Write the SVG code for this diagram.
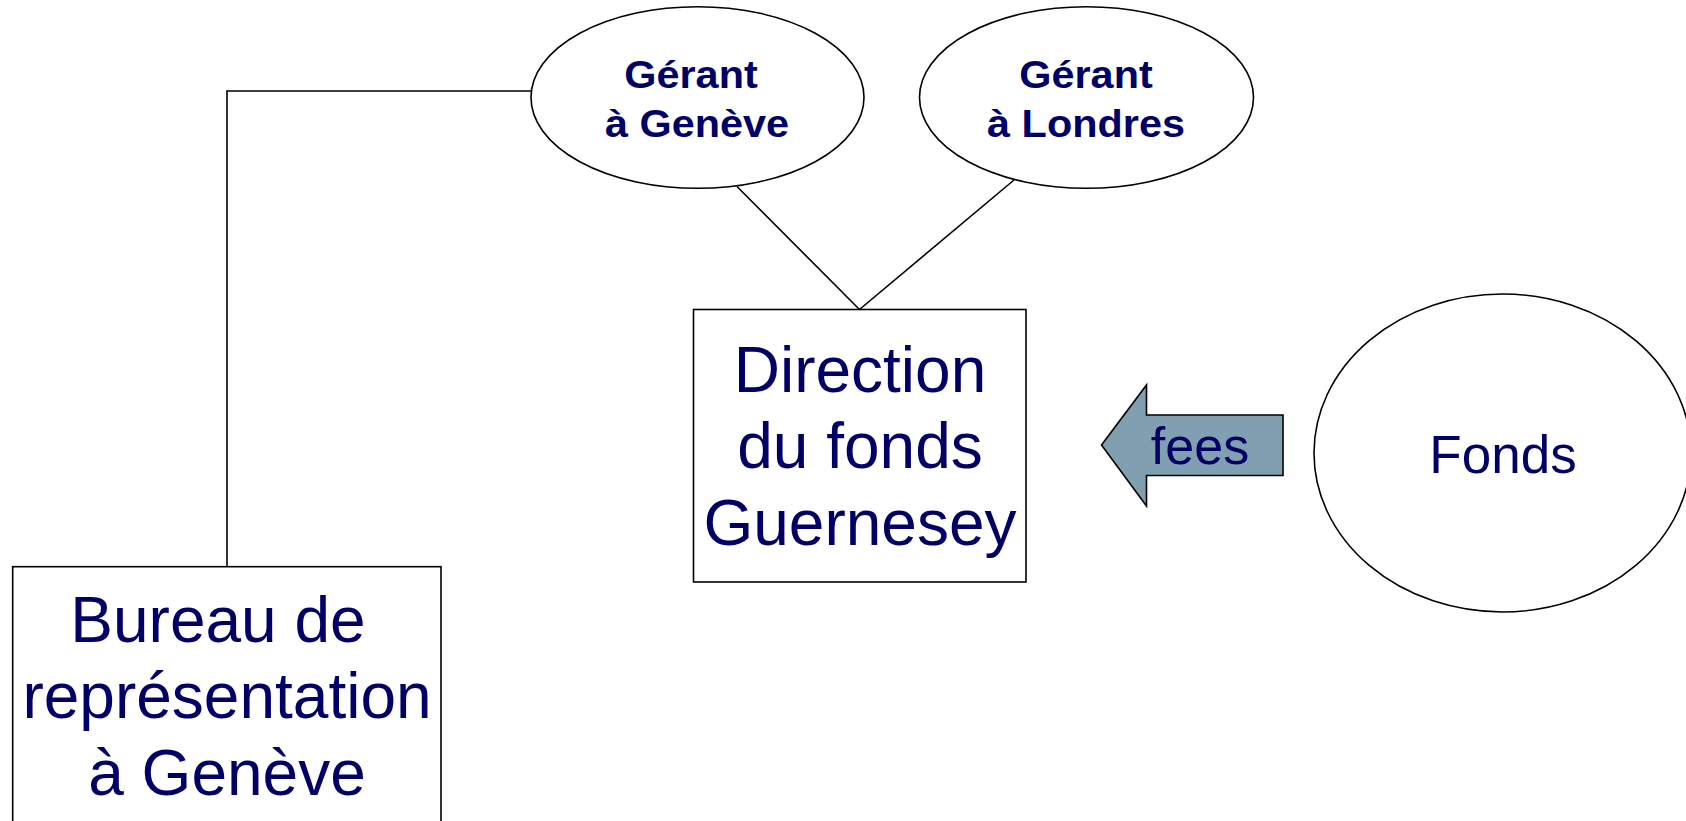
<svg xmlns="http://www.w3.org/2000/svg" width="1686" height="821" viewBox="0 0 1686 821">
  <style>
    .shape { fill: #ffffff; stroke: #000000; stroke-width: 1.6; }
    .link { fill: none; stroke: #000000; stroke-width: 1.6; }
    .big { font-family: "Liberation Sans", Arial, sans-serif; font-size: 64px; fill: #000066; text-anchor: middle; }
    .mid { font-family: "Liberation Sans", Arial, sans-serif; font-size: 52px; fill: #000066; text-anchor: middle; }
    .bold { font-family: "Liberation Sans", Arial, sans-serif; font-size: 38px; font-weight: bold; fill: #000066; text-anchor: middle; }
    .flow { fill: #809fb0; stroke: #000000; stroke-width: 1.6; }
  </style>
  <rect width="1686" height="821" fill="#ffffff"/>

  <g id="connectors">
    <polyline class="link" points="531,91 227,91 227,567"/>
    <line class="link" x1="737" y1="186.5" x2="859.5" y2="309.5"/>
    <line class="link" x1="1014" y1="180" x2="859.5" y2="309.5"/>
  </g>

  <g id="gerant-geneve">
    <ellipse class="shape" cx="697.5" cy="97.5" rx="166.5" ry="90.8"/>
    <g transform="translate(691,0) scale(1.09,1)">
      <text class="bold" x="0" y="88">Gérant</text>
    </g>
    <g transform="translate(697,0) scale(1.09,1)">
      <text class="bold" x="0" y="137">à Genève</text>
    </g>
  </g>

  <g id="gerant-londres">
    <ellipse class="shape" cx="1086.5" cy="97.5" rx="167" ry="90.8"/>
    <g transform="translate(1086,0) scale(1.09,1)">
      <text class="bold" x="0" y="88">Gérant</text>
    </g>
    <g transform="translate(1086,0) scale(1.09,1)">
      <text class="bold" x="0" y="137">à Londres</text>
    </g>
  </g>

  <g id="direction">
    <rect class="shape" x="693.5" y="309.5" width="332.5" height="272.5"/>
    <text class="big" x="860" y="391.5">Direction</text>
    <text class="big" x="860" y="468">du fonds</text>
    <text class="big" x="860" y="545">Guernesey</text>
  </g>

  <g id="fees">
    <polygon class="flow" points="1101.5,445 1146.5,385 1146.5,415 1283,415 1283,475.5 1146.5,475.5 1146.5,506"/>
    <text class="mid" x="1200" y="464">fees</text>
  </g>

  <g id="fonds">
    <ellipse class="shape" cx="1502.5" cy="453" rx="188.5" ry="159"/>
    <text class="mid" x="1503" y="472.5" style="font-size:53px">Fonds</text>
  </g>

  <g id="bureau">
    <rect class="shape" x="12.7" y="566.7" width="428.3" height="270"/>
    <text class="big" x="218" y="641.5">Bureau de</text>
    <text class="big" x="227" y="718">représentation</text>
    <text class="big" x="227" y="795">à Genève</text>
  </g>
</svg>
